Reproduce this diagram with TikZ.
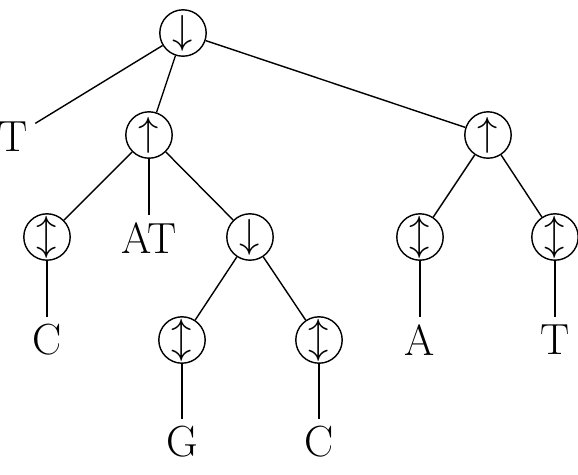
\documentclass[tikz,border=0pt]{standalone}
\usetikzlibrary{positioning}
\begin{document}
\begin{tikzpicture}[
    x=0.0125cm, y=-0.0125cm,
    line width=0.5pt,
    op/.style={circle, draw, minimum size=0.58cm, inner sep=0pt, font=\fontsize{15}{18}\selectfont},
    leaf/.style={font=\fontsize{15.5}{18}\selectfont, inner sep=2.5pt},
]
\useasboundingbox (0,0) rectangle (578,474);

% ====== Level 0 ======
\node[op] (root) at (183, 33) {$\downarrow$};

% ====== Level 1 ======
\node[leaf] (tT) at (13, 137) {T};
\node[op] (upL) at (149, 135) {$\uparrow$};
\node[op] (upR) at (488, 135) {$\uparrow$};

% ====== Level 2 ======
\node[leaf] (tAT) at (149, 238) {AT};
\node[op] (udA) at (47, 237) {$\updownarrow$};
\node[op] (downM) at (250, 237) {$\downarrow$};
\node[op] (udB) at (420, 237) {$\updownarrow$};
\node[op] (udC) at (555, 237) {$\updownarrow$};

% ====== Level 3 ======
\node[leaf] (tC1) at (47, 340) {C};
\node[op] (udD) at (182, 340) {$\updownarrow$};
\node[op] (udE) at (319, 340) {$\updownarrow$};
\node[leaf] (tA) at (420, 340) {A};
\node[leaf] (tT2) at (555, 340) {T};

% ====== Level 4 ======
\node[leaf] (tG) at (182, 442) {G};
\node[leaf] (tC2) at (319, 442) {C};

% ====== Edges ======
\draw (root) -- (tT);
\draw (root) -- (upL);
\draw (root) -- (upR);
\draw (upL) -- (udA);
\draw (upL) -- (tAT);
\draw (upL) -- (downM);
\draw (upR) -- (udB);
\draw (upR) -- (udC);
\draw (udA) -- (tC1);
\draw (downM) -- (udD);
\draw (downM) -- (udE);
\draw (udB) -- (tA);
\draw (udC) -- (tT2);
\draw (udD) -- (tG);
\draw (udE) -- (tC2);

\end{tikzpicture}
\end{document}
